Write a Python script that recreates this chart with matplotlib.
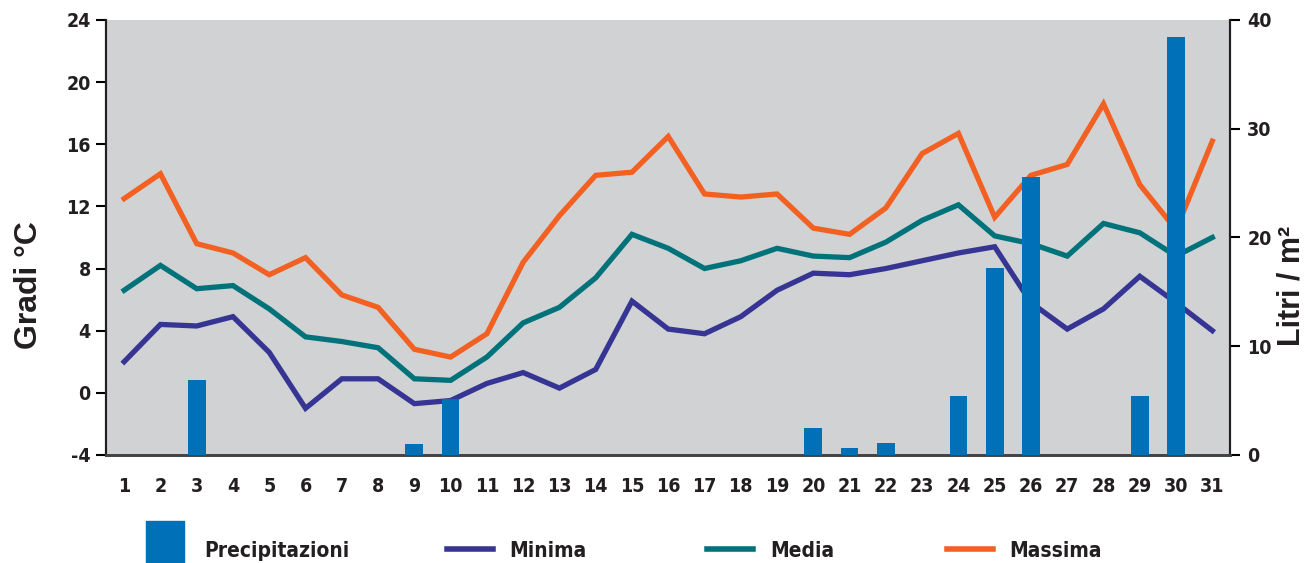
import matplotlib
matplotlib.use('Agg')
import matplotlib.pyplot as plt
from matplotlib.lines import Line2D

# dati giornalieri del mese
days = list(range(1, 32))
t_min = [2.0, 4.4, 4.3, 4.9, 2.6, -1.0, 0.9, 0.9, -0.7, -0.5, 0.6, 1.3, 0.3, 1.5, 5.9, 4.1,
         3.8, 4.9, 6.6, 7.7, 7.6, 8.0, 8.5, 9.0, 9.4, 5.8, 4.1, 5.4, 7.5, 5.8, 4.0]
t_med = [6.6, 8.2, 6.7, 6.9, 5.4, 3.6, 3.3, 2.9, 0.9, 0.8, 2.3, 4.5, 5.5, 7.4, 10.2, 9.3,
         8.0, 8.5, 9.3, 8.8, 8.7, 9.7, 11.1, 12.1, 10.1, 9.6, 8.8, 10.9, 10.3, 8.8, 10.0]
t_max = [12.5, 14.1, 9.6, 9.0, 7.6, 8.7, 6.3, 5.5, 2.8, 2.3, 3.8, 8.4, 11.4, 14.0, 14.2, 16.5,
         12.8, 12.6, 12.8, 10.6, 10.2, 11.9, 15.4, 16.7, 11.3, 14.0, 14.7, 18.6, 13.4, 10.5, 16.2]
rain = [0, 0, 6.9, 0, 0, 0, 0, 0, 1.0, 5.1, 0, 0, 0, 0, 0, 0,
        0, 0, 0, 2.5, 0.65, 1.1, 0, 5.4, 17.2, 25.6, 0, 0, 5.4, 38.4, 0]
temp_ticks = [-4, 0, 4, 8, 12, 16, 20, 24]
rain_ticks = [0, 10, 20, 30, 40]

c_rain = '#0070b8'
c_min = '#363593'
c_med = '#00727a'
c_max = '#f26122'
c_bg = '#d1d2d4'
c_txt = '#231f20'

plt.rcParams['axes.unicode_minus'] = False
cond = ['DejaVu Sans']
bold = ['Liberation Sans', 'DejaVu Sans']

fig = plt.figure(figsize=(13.09, 5.63), dpi=100)
ax = fig.add_axes([0.081, 0.192, 0.859, 0.7725])
ax.set_facecolor(c_bg)
ax.plot(days, t_min, color=c_min, lw=3.8, solid_joinstyle='miter')
ax.plot(days, t_med, color=c_med, lw=3.8, solid_joinstyle='miter')
ax.plot(days, t_max, color=c_max, lw=3.8, solid_joinstyle='miter')
ax.set_xlim(0.5, 31.5)
ax.set_ylim(-4, 24)
ax.set_yticks(temp_ticks)
ax.set_xticks(days)
ax.tick_params(axis='x', length=0, pad=16)
ax.tick_params(axis='y', length=7, width=1.5, direction='out', pad=4)

ax2 = ax.twinx()
ax2.bar(days, rain, width=0.49, color=c_rain, zorder=3)
ax2.set_ylim(0, 40)
ax2.set_yticks(rain_ticks)
ax2.tick_params(axis='y', length=7, width=1.5, direction='out', pad=5)

for lab in ax.get_xticklabels() + ax.get_yticklabels() + ax2.get_yticklabels():
    lab.set_family(cond)
    lab.set_fontweight('bold')
    lab.set_fontstretch('condensed')
    lab.set_fontsize(14)
    lab.set_color(c_txt)

for a in (ax, ax2):
    a.spines['top'].set_visible(False)
    a.spines['left'].set_linewidth(1.5)
    a.spines['right'].set_linewidth(1.5)
    a.spines['left'].set_color(c_txt)
    a.spines['right'].set_color(c_txt)
    a.spines['bottom'].set_linewidth(2)
    a.spines['bottom'].set_color('#444444')

fig.text(0.022, 0.493, 'Gradi °C', rotation=90, ha='center', va='center',
         fontsize=23, fontweight='bold', family=bold, color=c_txt)
fig.text(0.987, 0.493, 'Litri / m²', rotation=90, ha='center', va='center',
         fontsize=22, fontweight='bold', family=bold, color=c_txt)

# legenda in basso, una voce per volta
box = [(-0.7, -1), (0.7, -1), (0.7, 1), (-0.7, 1), (-0.7, -1)]
items = [
    (Line2D([], [], marker=box, ls='none', markersize=40, color=c_rain), 'Precipitazioni', 0.094),
    (Line2D([], [], color=c_min, lw=4), 'Minima', 0.327),
    (Line2D([], [], color=c_med, lw=4), 'Media', 0.526),
    (Line2D([], [], color=c_max, lw=4), 'Massima', 0.709),
]
for h, txt, xpos in items:
    leg = fig.legend([h], [txt], loc='center left', bbox_to_anchor=(xpos, 0.022),
                     frameon=False, handlelength=2.2, handletextpad=0.8,
                     prop={'family': cond, 'weight': 'bold', 'size': 15, 'stretch': 'condensed'})
    for t in leg.get_texts():
        t.set_color(c_txt)

fig.savefig('out.png', dpi=100)
